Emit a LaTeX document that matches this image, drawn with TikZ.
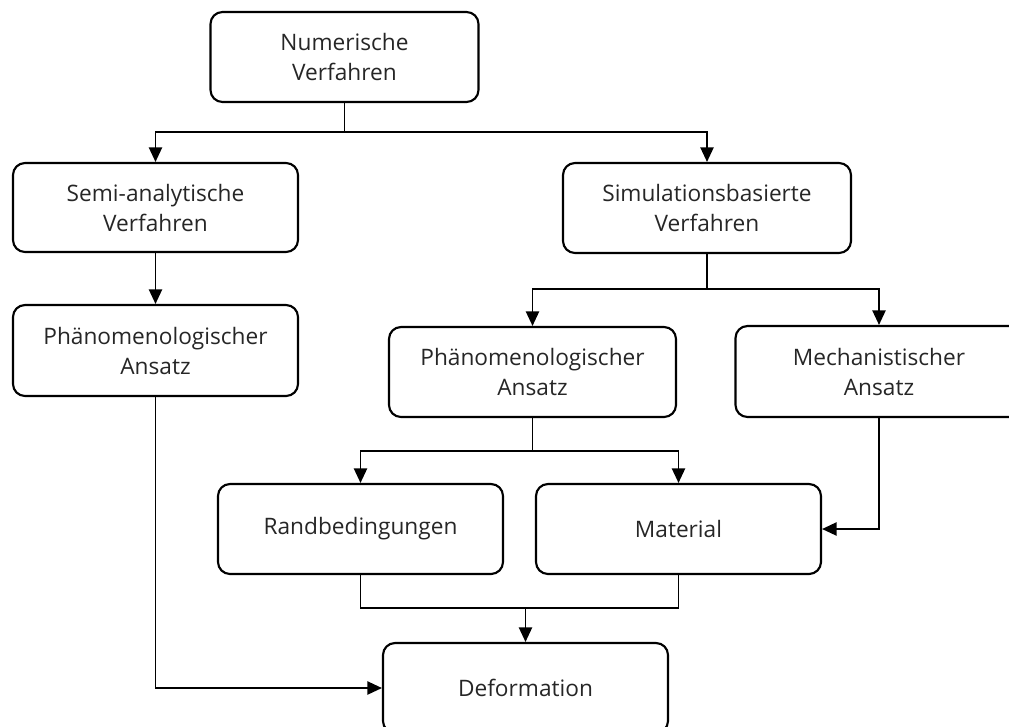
\documentclass[tikz,border=0pt]{standalone}
\usepackage{fontspec}
\setmainfont{Open Sans}
\usetikzlibrary{arrows.meta}
\tikzset{
  box/.style={draw, line width=1.6pt, rounded corners=9pt, align=center,
    inner sep=0pt, text=black!85, font=\fontsize{17}{22.5}\selectfont},
  conn/.style={line width=1.2pt},
  arr/.style={conn, -{Triangle[length=11pt,width=10pt]}}
}
\begin{document}
\begin{tikzpicture}[x=0.75pt, y=-0.75pt]
  \useasboundingbox (0,0) rectangle (1009,726);
  \clip (0,0) rectangle (1009,726);

  % boxes (centres in pixel units)
  \node[box, minimum width=201pt, minimum height=67.5pt] (num) at (344.5,57)
    {Numerische\\Verfahren};
  \node[box, minimum width=213.75pt, minimum height=66.75pt] (semi) at (155.5,207.5)
    {Semi-analytische\\Verfahren};
  \node[box, minimum width=216pt, minimum height=67.5pt] (sim) at (707,208)
    {Simulationsbasierte\\Verfahren};
  \node[box, minimum width=213.75pt, minimum height=68.25pt] (phl) at (155.5,350.5)
    {Phänomenologischer\\Ansatz};
  \node[box, minimum width=215.25pt, minimum height=67.5pt] (phm) at (532.5,372)
    {Phänomenologischer\\Ansatz};
  \node[box, minimum width=215.25pt, minimum height=68.25pt] (mech) at (879,371.5)
    {Mechanistischer\\Ansatz};
  \node[box, minimum width=213.75pt, minimum height=67.5pt] (rand) at (360.5,529)
    {Randbedingungen};
  \node[box, minimum width=213.75pt, minimum height=67.5pt] (mat) at (678.5,529)
    {Material};
  \node[box, minimum width=213.75pt, minimum height=67.5pt] (def) at (525.5,688)
    {Deformation};

  % branching points
  \coordinate (j1) at (344.5,132);
  \coordinate (j2) at (707,289);
  \coordinate (j3) at (532.5,451);
  \coordinate (j4) at (525.5,608);

  % connectors
  \draw[conn] (num.south) -- (j1);
  \draw[arr] (j1) -| (semi);
  \draw[arr] (j1) -| (sim);
  \draw[arr] (semi) -- (phl);
  \draw[conn] (sim.south) -- (j2);
  \draw[arr] (j2) -| (phm);
  \draw[arr] (j2) -| (mech);
  \draw[conn] (phm.south) -- (j3);
  \draw[arr] (j3) -| (rand);
  \draw[arr] (j3) -| (mat);
  \draw[arr] (mech.south) |- (mat.east);
  \draw[conn] (rand.south) |- (mat.south |- j4) -- (mat.south);
  \draw[arr] (j4) -- (def);
  \draw[arr] (phl.south) |- (def.west);
\end{tikzpicture}
\end{document}
